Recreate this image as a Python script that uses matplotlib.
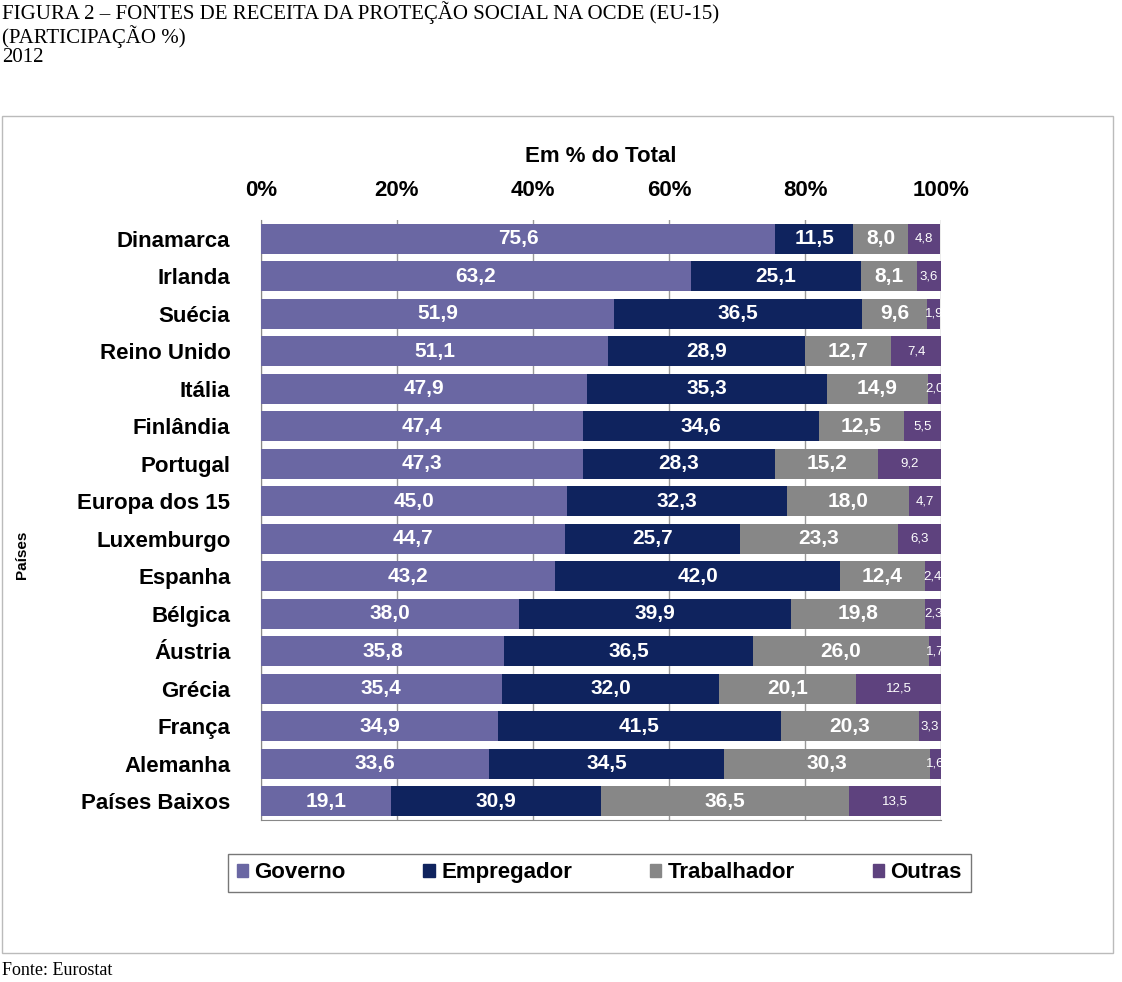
import matplotlib
matplotlib.use("Agg")
from matplotlib import pyplot as plt
from matplotlib.patches import Rectangle, Patch

countries = ["Dinamarca", "Irlanda", "Suécia", "Reino Unido", "Itália", "Finlândia",
             "Portugal", "Europa dos 15", "Luxemburgo", "Espanha", "Bélgica", "Áustria",
             "Grécia", "França", "Alemanha", "Países Baixos"]
governo = [75.6, 63.2, 51.9, 51.1, 47.9, 47.4, 47.3, 45.0, 44.7, 43.2, 38.0, 35.8, 35.4, 34.9, 33.6, 19.1]
empregador = [11.5, 25.1, 36.5, 28.9, 35.3, 34.6, 28.3, 32.3, 25.7, 42.0, 39.9, 36.5, 32.0, 41.5, 34.5, 30.9]
trabalhador = [8.0, 8.1, 9.6, 12.7, 14.9, 12.5, 15.2, 18.0, 23.3, 12.4, 19.8, 26.0, 20.1, 20.3, 30.3, 36.5]
outras = [4.8, 3.6, 1.9, 7.4, 2.0, 5.5, 9.2, 4.7, 6.3, 2.4, 2.3, 1.7, 12.5, 3.3, 1.6, 13.5]

series = [("Governo", governo, "#6a67a3"), ("Empregador", empregador, "#0f235e"),
          ("Trabalhador", trabalhador, "#878787"), ("Outras", outras, "#5e427e")]

plt.rcParams["font.family"] = ["Liberation Sans", "DejaVu Sans"]
fig = plt.figure(figsize=(11.22, 9.82), dpi=100)

serif = ["Liberation Serif", "DejaVu Serif"]
fig.text(0.002, 0.999, "FIGURA 2 – FONTES DE RECEITA DA PROTEÇÃO SOCIAL NA OCDE (EU-15)\n(PARTICIPAÇÃO %)\n2012",
         ha="left", va="top", fontsize=15, family=serif, linespacing=1.05)
fig.text(0.002, 0.003, "Fonte: Eurostat", ha="left", va="bottom", fontsize=13, family=serif)
fig.patches.append(Rectangle((0.002, 0.03), 0.990, 0.852, transform=fig.transFigure,
                             fill=False, edgecolor="#bbbbbb", lw=1))

ax = fig.add_axes([0.2326, 0.165, 0.6061, 0.611])
y = list(range(len(countries)))
left = [0.0] * len(countries)
for si, (name, vals, col) in enumerate(series):
    ax.barh(y, vals, left=left, height=0.8, color=col, zorder=3)
    for i, v in enumerate(vals):
        cx = left[i] + v / 2
        if si < 3:
            ax.text(cx, i, f"{v:.1f}".replace(".", ","), ha="center", va="center",
                    color="white", fontsize=15, fontweight="bold", zorder=4)
        else:
            ax.text(cx, i, f"{v:.1f}".replace(".", ","), ha="center", va="center",
                    color="white", fontsize=9.5, zorder=4, clip_on=True)
    left = [l + v for l, v in zip(left, vals)]

ax.set_xlim(0, 100)
ax.set_ylim(len(countries) - 0.5, -0.5)
ax.set_yticks(y)
ax.set_yticklabels(countries, fontsize=16, fontweight="bold")
ax.set_xticks([0, 20, 40, 60, 80, 100])
ax.set_xticklabels(["0%", "20%", "40%", "60%", "80%", "100%"], fontsize=16, fontweight="bold")
ax.xaxis.tick_top()
ax.tick_params(length=0, pad=14, axis="x")
ax.tick_params(length=0, pad=22, axis="y")
ax.grid(axis="x", color="#999999", lw=1, zorder=0)
for s in ["top", "right"]:
    ax.spines[s].set_visible(False)
ax.spines["left"].set_color("#888888")
ax.spines["bottom"].set_color("#888888")
ax.set_title("Em % do Total", fontsize=16, fontweight="bold", pad=42)
fig.text(0.02, 0.435, "Países", rotation=90, ha="center", va="center", fontsize=11, fontweight="bold")

handles = [Patch(color=c, label=n) for n, _, c in series]
leg = fig.legend(handles=handles, loc="center", bbox_to_anchor=(0.534, 0.111), ncol=4,
                 fontsize=16, prop={"weight": "bold", "size": 16}, frameon=True, fancybox=False,
                 edgecolor="#555555", handlelength=0.5, handleheight=0.5, columnspacing=3.5,
                 borderpad=0.4, handletextpad=0.3)

fig.savefig("out.png", dpi=100)
